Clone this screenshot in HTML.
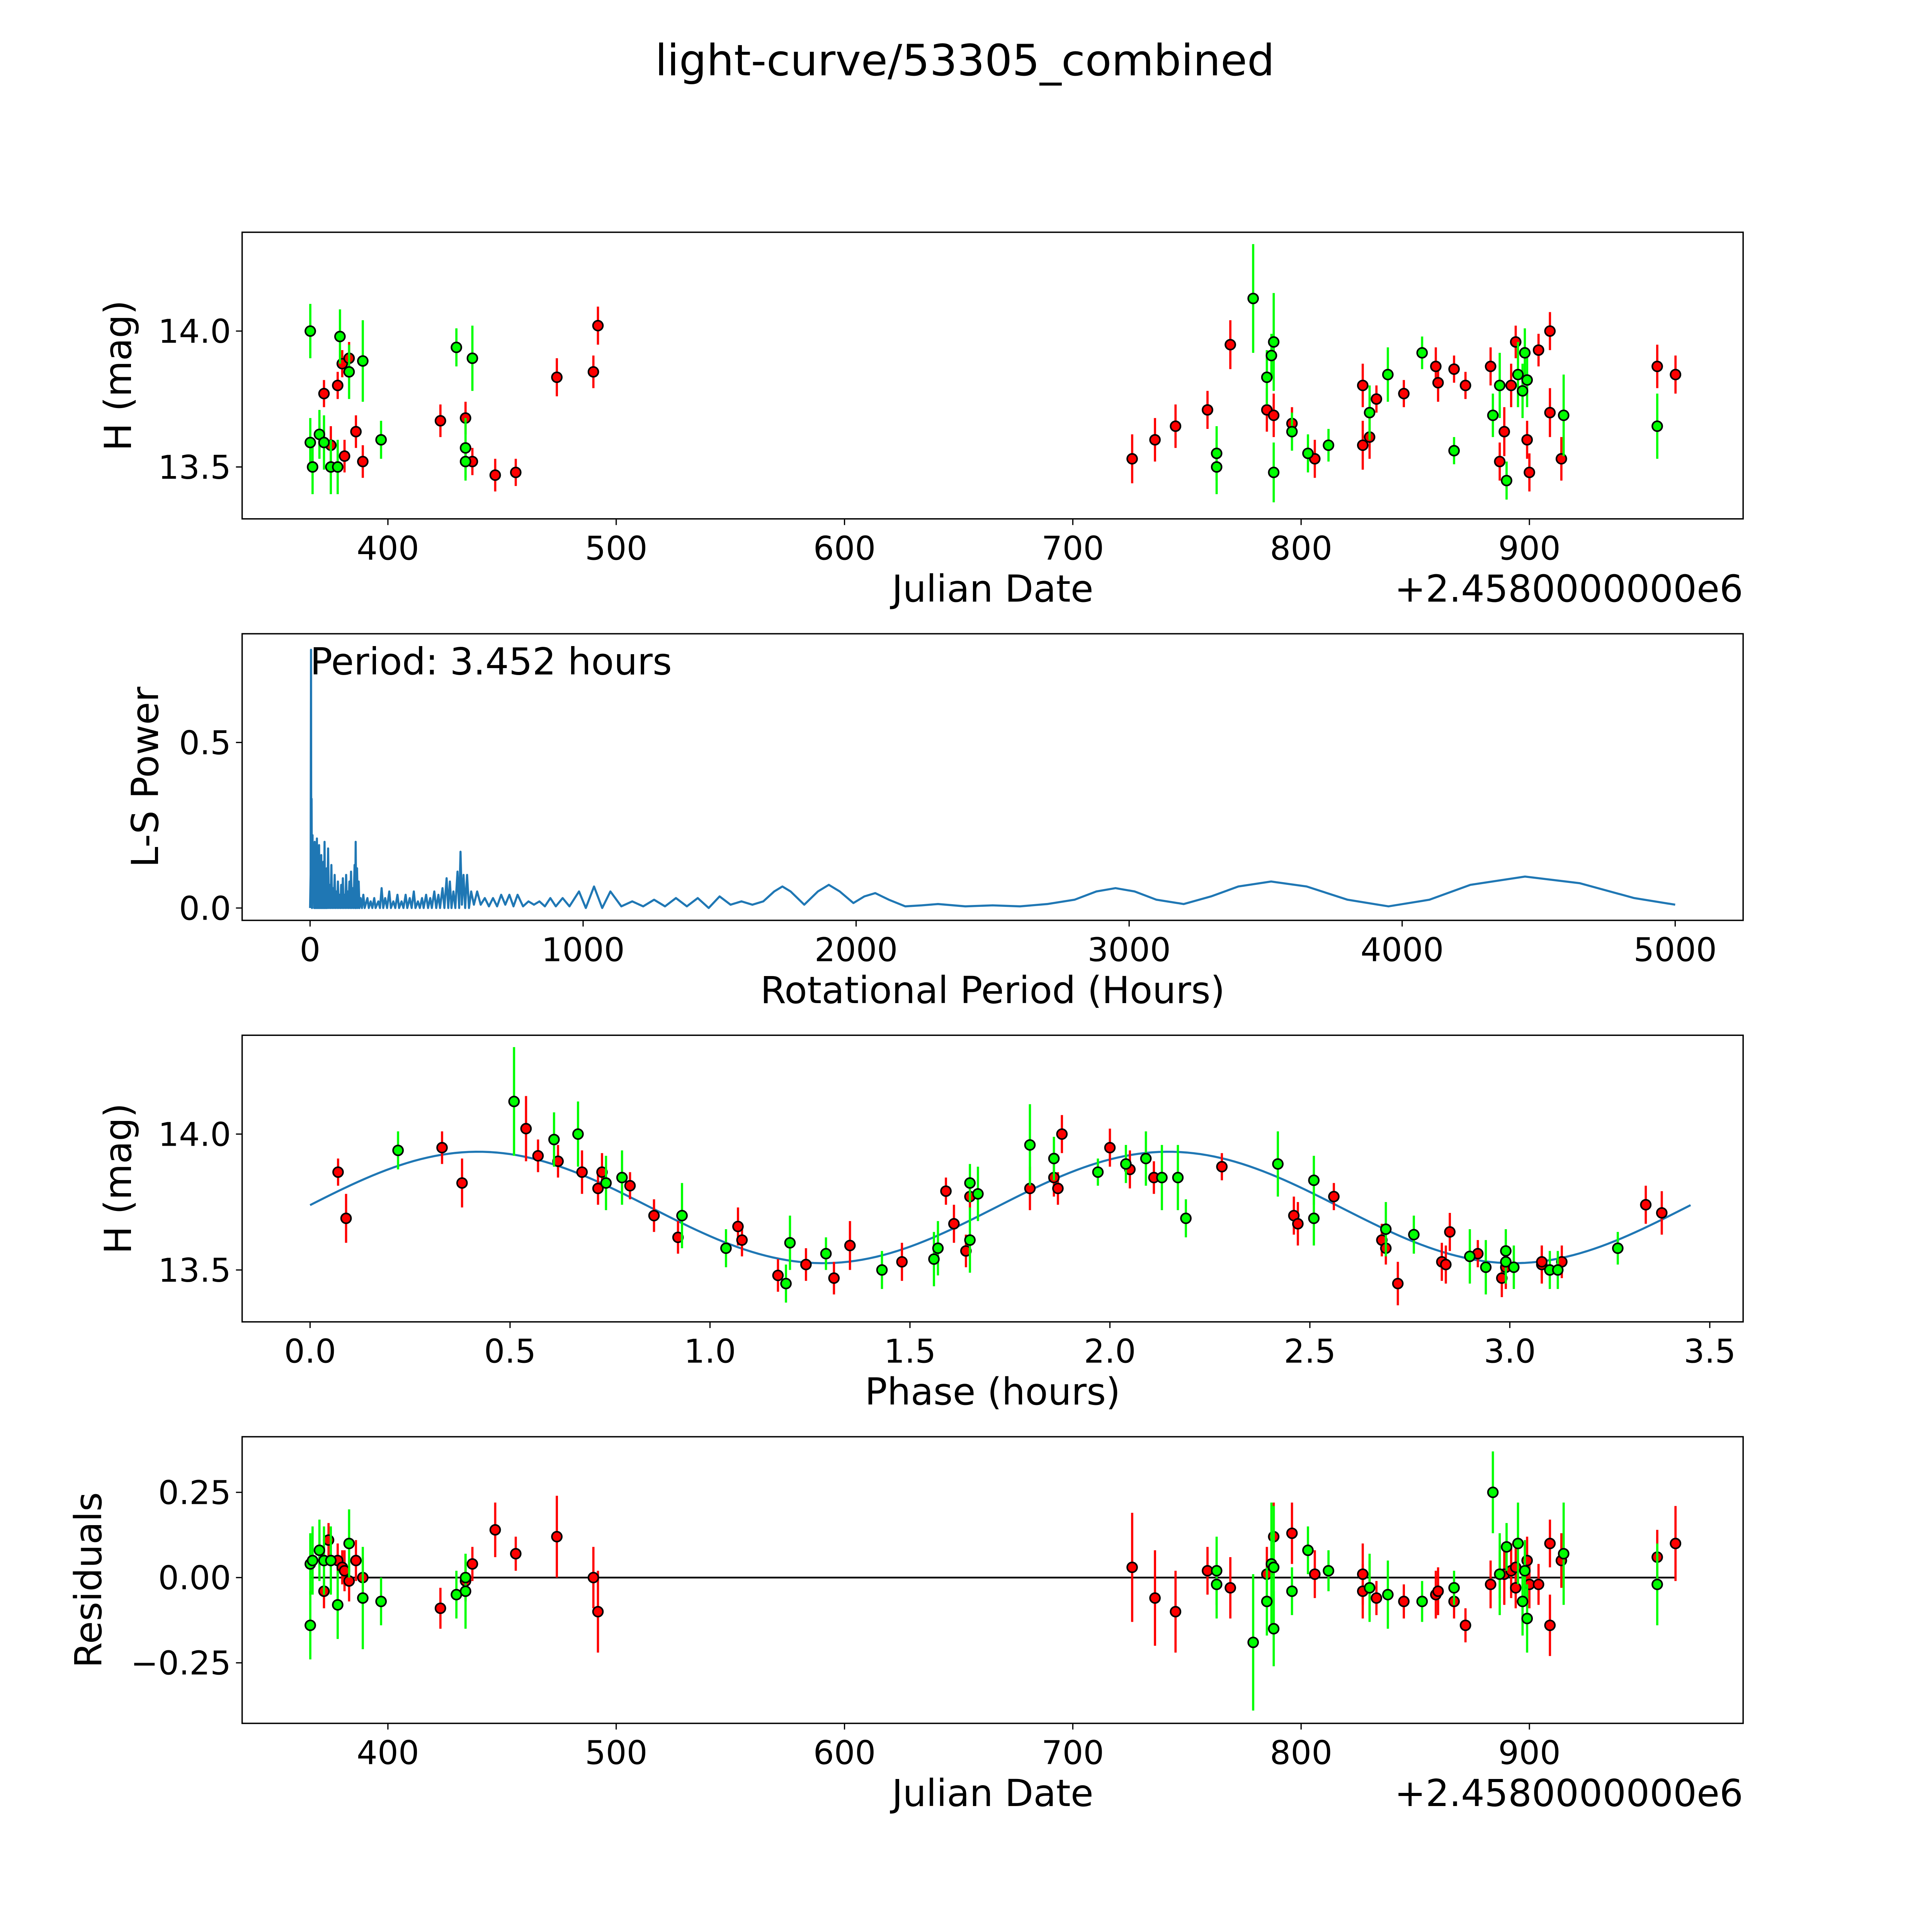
<!DOCTYPE html>
<html><head><meta charset="utf-8"><style>html,body{margin:0;padding:0;background:#fff;overflow:hidden;width:5400px;height:5400px}svg{display:block}</style></head>
<body>
<svg id="fig" xmlns="http://www.w3.org/2000/svg" width="5400" height="5400" viewBox="0 0 1689 1689" font-family="'DejaVu Sans','Liberation Sans',sans-serif">
<rect width="1689" height="1689" fill="#fff"/>
<text x="781" y="61" font-size="35" text-anchor="middle">light-curve/53305_combined</text>
</svg>
<script>
// ---- Panel 1: raw light curve ----
const gDate=[366,366,367,370,372,375,378,379,383,389,397,430,434,434,437,763,763,779,785,787,788,788,796,803,812,830,838,853,867,884,887,890,895,897,898,899,915,956];
const gMag=[14.0,13.59,13.50,13.62,13.59,13.50,13.50,13.98,13.85,13.89,13.60,13.94,13.57,13.52,13.90,13.55,13.50,14.12,13.83,13.91,13.96,13.48,13.63,13.55,13.58,13.70,13.84,13.92,13.56,13.69,13.80,13.45,13.84,13.78,13.92,13.82,13.69,13.65];
const gErr=[0.1,0.09,0.1,0.09,0.1,0.1,0.1,0.1,0.1,0.15,0.07,0.07,0.11,0.07,0.12,0.1,0.1,0.2,0.1,0.08,0.18,0.11,0.07,0.07,0.06,0.1,0.1,0.06,0.05,0.08,0.12,0.07,0.12,0.1,0.09,0.1,0.15,0.12];
const rDate=[372,375,378,380,381,383,386,389,423,434,437,447,456,474,490,492,726,736,745,759,769,785,788,796,806,827,827,830,833,845,859,860,867,872,883,887,889,892,894,899,900,904,909,909,914,956,964];
const rMag=[13.77,13.58,13.80,13.88,13.54,13.90,13.63,13.52,13.67,13.68,13.52,13.47,13.48,13.83,13.85,14.02,13.53,13.60,13.65,13.71,13.95,13.71,13.69,13.66,13.53,13.58,13.80,13.61,13.75,13.77,13.87,13.81,13.86,13.80,13.87,13.52,13.63,13.80,13.96,13.60,13.48,13.93,14.00,13.70,13.53,13.87,13.84];
const rErr=[0.05,0.07,0.05,0.05,0.06,0.06,0.06,0.06,0.06,0.06,0.05,0.06,0.05,0.07,0.06,0.07,0.09,0.08,0.08,0.07,0.09,0.08,0.08,0.06,0.07,0.09,0.08,0.08,0.05,0.05,0.07,0.07,0.05,0.05,0.07,0.07,0.09,0.08,0.06,0.07,0.07,0.06,0.07,0.09,0.08,0.08,0.07];
const dateTicks=[400,500,600,700,800,900];
const magTicks=[13.5,14.0];
// ---- Panel 2: periodogram ----
const lsPeriod=[0,2,3.45,4.5,5.5,7,9,11,13,15,17,19,21,23,25,27,29,31,33,35,37,39,41,43,45,47,49,51,53,55,57,59,61,63,66,69,72,75,78,81,84,87,90,93,96,99,102,105,108,111,114,117,120,123,126,129,132,135,138,141,144,147,150,153,156,159,163,165,167,169,172,175,178,181,185,190,195,200,210,215,222,228,235,240,250,256,262,268,275,282,290,296,305,312,320,326,335,342,350,356,365,372,380,386,395,402,410,416,425,432,440,446,455,462,470,476,485,492,500,506,512,518,525,532,540,546,551,556,562,568,575,582,590,600,612,625,640,655,670,685,700,715,730,745,760,780,800,820,840,860,880,900,925,950,985,1010,1040,1070,1100,1140,1180,1220,1260,1300,1340,1380,1420,1460,1500,1540,1580,1620,1660,1700,1730,1760,1810,1860,1900,1940,1990,2030,2070,2120,2180,2240,2300,2400,2500,2600,2700,2800,2880,2950,3020,3100,3200,3300,3400,3520,3650,3800,3950,4100,4250,4450,4650,4850,5000];
const lsPower=[0,0.1,0.78,0.05,0.33,0.0,0.22,0.02,0.18,0,0.2,0,0.15,0,0.21,0,0.12,0,0.19,0,0.1,0,0.16,0,0.09,0,0.14,0,0.2,0,0.08,0,0.12,0,0.18,0,0.07,0,0.13,0,0.06,0,0.1,0,0.05,0,0.08,0,0.04,0,0.07,0,0.09,0,0.04,0,0.1,0,0.05,0,0.08,0,0.11,0,0.06,0,0.13,0,0.2,0,0.12,0,0.08,0,0.03,0,0.04,0,0.03,0,0.02,0,0.03,0,0.02,0,0.06,0,0.03,0,0.05,0,0.02,0,0.04,0,0.02,0,0.04,0,0.03,0,0.05,0,0.02,0,0.03,0,0.04,0,0.03,0,0.05,0,0.04,0,0.06,0,0.09,0,0.08,0,0.05,0,0.11,0,0.17,0.01,0.1,0,0.1,0,0.05,0.01,0.05,0.01,0.03,0.005,0.03,0.005,0.04,0.01,0.04,0.005,0.04,0.005,0.02,0.01,0.02,0.005,0.03,0.005,0.03,0.005,0.05,0.0,0.065,0.0,0.05,0.005,0.02,0.005,0.025,0.005,0.03,0.005,0.03,0.0,0.035,0.01,0.02,0.01,0.02,0.05,0.065,0.05,0.01,0.05,0.07,0.05,0.015,0.035,0.045,0.025,0.005,0.008,0.012,0.005,0.008,0.005,0.012,0.025,0.05,0.06,0.05,0.025,0.012,0.035,0.065,0.08,0.065,0.025,0.005,0.025,0.07,0.095,0.075,0.03,0.01];
const periodTicks=[0,1000,2000,3000,4000,5000];
const powerTicks=[0.0,0.5];
// ---- Panel 3: phased ----
const gPhase=[0.22,0.51,0.61,0.67,0.74,0.78,0.93,1.04,1.20,1.19,1.29,1.43,1.56,1.57,1.65,1.65,1.67,1.80,1.86,1.97,2.04,2.09,2.13,2.17,2.19,2.42,2.51,2.51,2.69,2.76,2.90,2.94,2.99,2.99,3.01,3.10,3.12,3.27];
const gPMag=[13.94,14.12,13.98,14.00,13.82,13.84,13.70,13.58,13.60,13.45,13.56,13.50,13.54,13.58,13.61,13.82,13.78,13.96,13.91,13.86,13.89,13.91,13.84,13.84,13.69,13.89,13.83,13.69,13.65,13.63,13.55,13.51,13.57,13.53,13.51,13.50,13.50,13.58];
const gPErr=[0.07,0.2,0.1,0.12,0.1,0.1,0.12,0.07,0.1,0.07,0.06,0.07,0.1,0.1,0.12,0.07,0.1,0.15,0.08,0.05,0.07,0.1,0.12,0.12,0.07,0.12,0.09,0.1,0.1,0.07,0.1,0.1,0.08,0.08,0.08,0.07,0.07,0.06];
const rPhase=[0.07,0.09,0.33,0.38,0.54,0.57,0.62,0.68,0.72,0.73,0.80,0.86,0.92,1.07,1.08,1.17,1.24,1.31,1.35,1.48,1.59,1.61,1.64,1.65,1.80,1.86,1.87,1.88,2.00,2.05,2.11,2.28,2.46,2.47,2.56,2.68,2.69,2.72,2.83,2.84,2.85,2.92,2.98,2.99,3.08,3.08,3.13,3.34,3.38];
const rPMag=[13.86,13.69,13.95,13.82,14.02,13.92,13.90,13.86,13.80,13.86,13.81,13.70,13.62,13.66,13.61,13.48,13.52,13.47,13.59,13.53,13.79,13.67,13.57,13.77,13.80,13.84,13.80,14.00,13.95,13.87,13.84,13.88,13.70,13.67,13.77,13.61,13.58,13.45,13.53,13.52,13.64,13.56,13.47,13.51,13.52,13.53,13.53,13.74,13.71];
const rPErr=[0.05,0.09,0.06,0.09,0.12,0.06,0.06,0.08,0.06,0.07,0.05,0.06,0.06,0.07,0.06,0.06,0.06,0.06,0.09,0.07,0.05,0.07,0.06,0.05,0.08,0.07,0.06,0.07,0.07,0.07,0.06,0.05,0.07,0.08,0.05,0.06,0.06,0.08,0.07,0.07,0.07,0.05,0.07,0.08,0.07,0.06,0.06,0.07,0.08];
const modelMean=[13.73], modelAmp=[0.205], modelPeak=[0.42], modelPeriod=[3.452];
const phaseTicks=[0.0,0.5,1.0,1.5,2.0,2.5,3.0,3.5];
// ---- Panel 4: residuals ----
const gRDate=[366,366,367,370,372,375,378,383,389,397,430,434,434,763,763,779,785,787,788,788,796,803,812,830,838,853,867,884,887,890,895,897,898,899,915,956];
const gRes=[-0.14,0.04,0.05,0.08,0.05,0.05,-0.08,0.10,-0.06,-0.07,-0.05,-0.04,0.0,0.02,-0.02,-0.19,-0.07,0.04,0.03,-0.15,-0.04,0.08,0.02,-0.03,-0.05,-0.07,-0.03,0.25,0.01,0.09,0.10,-0.07,0.02,-0.12,0.07,-0.02];
const gRErr=[0.1,0.09,0.1,0.09,0.1,0.1,0.1,0.1,0.15,0.07,0.07,0.11,0.07,0.1,0.1,0.2,0.1,0.18,0.18,0.11,0.07,0.07,0.06,0.1,0.1,0.06,0.05,0.12,0.12,0.07,0.12,0.1,0.09,0.1,0.15,0.12];
const rRDate=[372,374,378,380,381,383,386,389,423,434,437,447,456,474,490,492,726,736,745,759,769,785,788,796,806,827,827,830,833,845,859,860,867,872,883,887,889,892,894,894,899,900,904,909,909,914,956,964];
const rRes=[-0.04,0.11,0.05,0.03,0.02,-0.01,0.05,0.0,-0.09,-0.01,0.04,0.14,0.07,0.12,0.0,-0.10,0.03,-0.06,-0.10,0.02,-0.03,0.01,0.12,0.13,0.01,0.01,-0.04,-0.03,-0.06,-0.07,-0.05,-0.04,-0.07,-0.14,-0.02,0.01,0.01,0.02,0.03,-0.03,0.05,-0.02,-0.02,0.10,-0.14,0.05,0.06,0.10];
const rRErr=[0.05,0.05,0.05,0.05,0.06,0.06,0.06,0.06,0.06,0.06,0.05,0.08,0.05,0.12,0.09,0.12,0.16,0.14,0.12,0.07,0.09,0.08,0.1,0.09,0.07,0.09,0.08,0.08,0.05,0.05,0.07,0.07,0.05,0.05,0.07,0.07,0.09,0.08,0.06,0.06,0.07,0.07,0.06,0.07,0.09,0.08,0.08,0.11];
const resTicks=[-0.25,0.0,0.25];

const NS='http://www.w3.org/2000/svg';
const svg=document.getElementById('fig');
function mk(tag,attrs,parent){const e=document.createElementNS(NS,tag);for(const k in attrs)e.setAttribute(k,attrs[k]);(parent||svg).appendChild(e);return e;}
const L=196,R=1411,PH=232;
function lin(d0,d1,p0,p1){return v=>p0+(v-d0)*(p1-p0)/(d1-d0);}
function axes(top,xs,ys,xt,yt,xfmt,yfmt,xlabel,ylabel,name){
  const g=mk('g',{});
  
  
  xt.forEach(v=>{const x=xs(v);
    const t=mk('line',{x1:x,x2:x,y1:top+PH,y2:top+PH+5,stroke:'#000','stroke-width':1},g);
    
    const tx=mk('text',{x:x,y:top+PH+33,'font-size':26.5,'text-anchor':'middle'},g);tx.textContent=xfmt(v);
    });
  yt.forEach(v=>{const y=ys(v);
    const t=mk('line',{x1:L-5,x2:L,y1:y,y2:y,stroke:'#000','stroke-width':1},g);
    
    const tx=mk('text',{x:L-9,y:y+9.5,'font-size':26.5,'text-anchor':'end'},g);tx.textContent=yfmt(v);
    });
  const xl=mk('text',{x:(L+R)/2,y:top+PH+67,'font-size':30,'text-anchor':'middle'},g);xl.textContent=xlabel;
  
  const yl=mk('text',{x:0,y:0,'font-size':30,'text-anchor':'middle',transform:`translate(${ylabel[1]},${top+PH/2}) rotate(-90)`},g);yl.textContent=ylabel[0];
  
  return g;
}
function frame(top,name){const f=mk('rect',{x:L,y:top,width:R-L,height:PH,fill:'none',stroke:'#000','stroke-width':1.1});
  }
function points(xv,yv,ev,xs,ys,color,name){
  const g=mk('g',{});
  
  
  xv.forEach((v,i)=>{const l=mk('line',{x1:xs(v),x2:xs(v),y1:ys(yv[i]-ev[i]),y2:ys(yv[i]+ev[i]),stroke:color,'stroke-width':1.8},g);
    });
  xv.forEach((v,i)=>{const c=mk('circle',{cx:xs(v),cy:ys(yv[i]),r:4,fill:color,stroke:'#000','stroke-width':1.3},g);
    });
}
function offset(top){const t=mk('text',{x:R,y:top+PH+67,'font-size':30,'text-anchor':'end'});t.textContent='+2.4580000000e6';
  }
const f1=v=>v.toFixed(1), f0=v=>String(v), f2=v=>(v<0?'\u2212':'')+Math.abs(v).toFixed(2);

// Panel 1
const T1=188, xsD=lin(400,900,314,1238), ys1=lin(14.0,13.5,268,378);
axes(T1,xsD,ys1,dateTicks,magTicks,f0,f1,'Julian Date',['H (mag)',106],'lightcurve-axes');
points(rDate,rMag,rErr,xsD,ys1,'#ff0000','red-band-points');
points(gDate,gMag,gErr,xsD,ys1,'#00ff00','green-band-points');
frame(T1,'lightcurve-panel');offset(T1);

// Panel 2
const T2=513, xsP=lin(0,5000,251,1356), ysP=lin(0,0.5,735,601);
axes(T2,xsP,ysP,periodTicks,powerTicks,f0,f1,'Rotational Period (Hours)',['L-S Power',128],'periodogram-axes');
const pl=mk('polyline',{points:lsPeriod.map((p,i)=>xsP(p)+','+ysP(lsPower[i])).join(' '),fill:'none',stroke:'#1f77b4','stroke-width':1.7,'stroke-linejoin':'round'});

const pt=mk('text',{x:251,y:546,'font-size':30});pt.textContent='Period: 3.452 hours';

frame(T2,'periodogram-panel');

// Panel 3
const T3=838, xsPh=lin(0,3.5,251,1384), ys3=lin(14.0,13.5,918,1028);
axes(T3,xsPh,ys3,phaseTicks,magTicks,f1,f1,'Phase (hours)',['H (mag)',106],'phase-axes');
const mpts=[];for(let i=0;i<=200;i++){const ph=modelPeriod[0]*i/200;mpts.push(xsPh(ph)+','+ys3(modelMean[0]+modelAmp[0]*Math.cos(2*Math.PI*(ph-modelPeak[0])/(modelPeriod[0]/2))));}
const ml=mk('polyline',{points:mpts.join(' '),fill:'none',stroke:'#1f77b4','stroke-width':1.7});

points(rPhase,rPMag,rPErr,xsPh,ys3,'#ff0000','red-phased-points');
points(gPhase,gPMag,gPErr,xsPh,ys3,'#00ff00','green-phased-points');
frame(T3,'phase-panel');

// Panel 4
const T4=1163, ys4=lin(0.25,-0.25,1208,1346);
axes(T4,xsD,ys4,dateTicks,resTicks,f0,f2,'Julian Date',['Residuals',82],'residual-axes');
const zl=mk('line',{x1:xsD(366),x2:xsD(964),y1:ys4(0),y2:ys4(0),stroke:'#000','stroke-width':1.4});

points(rRDate,rRes,rRErr,xsD,ys4,'#ff0000','red-residual-points');
points(gRDate,gRes,gRErr,xsD,ys4,'#00ff00','green-residual-points');
frame(T4,'residual-panel');offset(T4);
</script>
</body></html>
